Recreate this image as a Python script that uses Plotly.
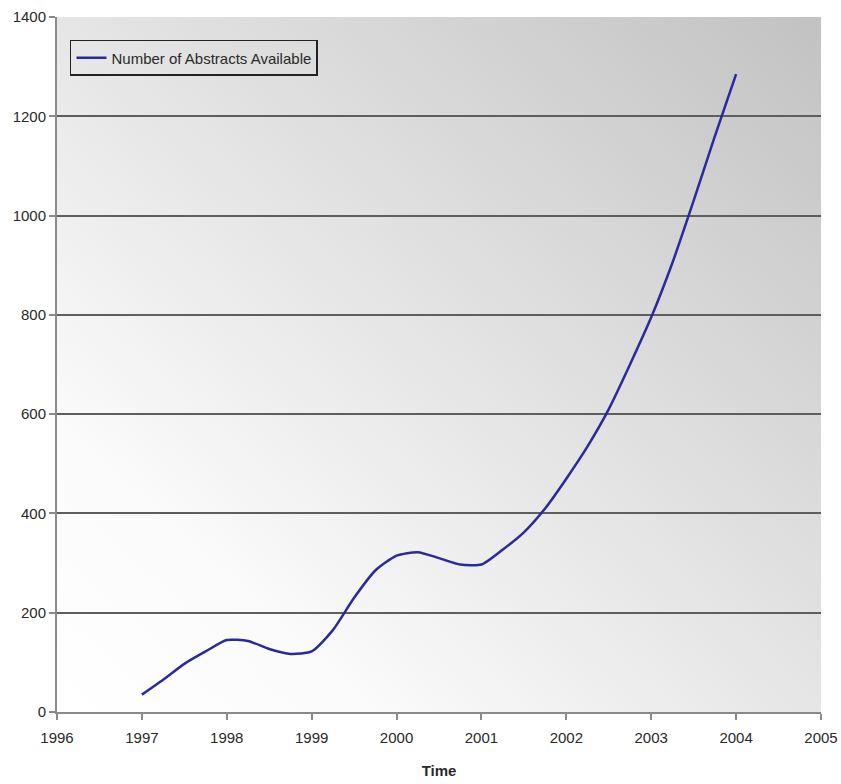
import base64
import plotly.graph_objects as go

# Data
years = [1997.0, 1997.25, 1997.5, 1997.75, 1998.0, 1998.25, 1998.5, 1998.75,
         1999.0, 1999.25, 1999.5, 1999.75, 2000.0, 2000.25, 2000.5, 2000.75,
         2001.0, 2001.25, 2001.5, 2001.75, 2002.0, 2002.25, 2002.5, 2002.75,
         2003.0, 2003.25, 2003.5, 2003.75, 2004.0]
abstracts = [35, 65, 97, 122, 145, 143, 127, 117,
             122, 165, 230, 285, 315, 322, 310, 297,
             297, 327, 362, 410, 470, 535, 610, 700,
             795, 905, 1030, 1160, 1285]
x_ticks = [1996, 1997, 1998, 1999, 2000, 2001, 2002, 2003, 2004, 2005]
y_ticks = [0, 200, 400, 600, 800, 1000, 1200, 1400]
series_name = "Number of Abstracts Available"

svg = ('<svg xmlns="http://www.w3.org/2000/svg" width="100" height="100" '
       'preserveAspectRatio="none">'
       '<defs><linearGradient id="g" x1="0" y1="1" x2="1" y2="0">'
       '<stop offset="0" stop-color="#ffffff"/>'
       '<stop offset="0.2" stop-color="#fbfbfb"/>'
       '<stop offset="1" stop-color="#c2c2c2"/>'
       '</linearGradient></defs>'
       '<rect width="100" height="100" fill="url(#g)"/></svg>')
svg_uri = "data:image/svg+xml;base64," + base64.b64encode(svg.encode()).decode()

fig = go.Figure()
fig.add_trace(go.Scatter(
    x=years, y=abstracts, mode="lines", name=series_name,
    line=dict(color="#2a2a9c", width=2.5, shape="spline", smoothing=0.6),
))

font_family = "Liberation Sans, Arial, sans-serif"

fig.update_layout(
    width=841, height=784,
    margin=dict(l=57, r=20, t=17, b=72),
    paper_bgcolor="white",
    plot_bgcolor="white",
    font=dict(family=font_family, size=15, color="#2a2a2a"),
    showlegend=True,
    legend=dict(
        x=0.017, y=0.967, xanchor="left", yanchor="top",
        bgcolor="rgba(0,0,0,0)", bordercolor="#222222", borderwidth=1.5,
        font=dict(size=15, color="#2a2a2a"),
        itemwidth=30, tracegroupgap=0,
    ),
    images=[dict(
        source=svg_uri, xref="paper", yref="paper", x=0, y=1,
        sizex=1, sizey=1, xanchor="left", yanchor="top",
        sizing="stretch", layer="below",
    )],
    xaxis=dict(
        range=[x_ticks[0], x_ticks[-1]], tickmode="array", tickvals=x_ticks,
        ticktext=[str(t) for t in x_ticks],
        showgrid=False, zeroline=False, automargin=False,
        ticklabeloverflow="allow", ticklabelstandoff=5,
        showline=True, linecolor="#8a8a8a", linewidth=2,
        ticks="outside", ticklen=6, tickcolor="#8a8a8a", tickwidth=1.5,
        title=dict(text="<b>Time</b>", font=dict(size=15, color="#2a2a2a"), standoff=20),
        tickfont=dict(size=15),
    ),
    yaxis=dict(
        range=[y_ticks[0], y_ticks[-1]], tickmode="array", tickvals=y_ticks,
        showgrid=True, gridcolor="#5e5e5e", gridwidth=2,
        zeroline=False, automargin=False,
        showline=True, linecolor="#8a8a8a", linewidth=2,
        ticks="outside", ticklen=6, tickcolor="#8a8a8a", tickwidth=1.5,
        tickfont=dict(size=15),
    ),
)

fig.write_html("out.html")
